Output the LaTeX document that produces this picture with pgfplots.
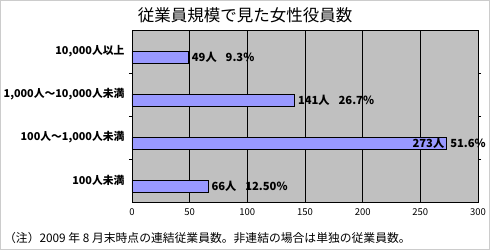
\documentclass[border=0pt]{standalone}
\usepackage{fontspec}
\setmainfont{Noto Sans CJK JP}
\usepackage{pgfplots}
\pgfplotsset{compat=1.18}
\definecolor{plotbg}{HTML}{C0C0C0}
\definecolor{barfill}{HTML}{9999FF}
\begin{document}
\begin{tikzpicture}
\path[use as bounding box] (0pt,0pt) rectangle (490pt,250pt);
\draw[black!20, line width=1pt] (0.5pt,0.5pt) rectangle (489.5pt,249.5pt);
\node[font=\fontsize{16.5}{18}\selectfont, inner sep=0pt] at (245pt,235pt) {従業員規模で見た女性役員数};
\node[anchor=west, font=\fontsize{11.8}{13}\selectfont, inner sep=0pt] at (4pt,12pt) {（注）2009 年 8 月末時点の連結従業員数。非連結の場合は単独の従業員数。};
\begin{axis}[
  at={(132pt,48pt)}, anchor=south west,
  scale only axis, width=346pt, height=172pt,
  xmin=0, xmax=300, ymin=-0.5, ymax=3.5,
  y dir=reverse,
  xtick={0,50,...,300},
  ytick={0,1,2,3},
  yticklabels={10{,}000人以上, 1{,}000人～10{,}000人未満, 100人～1{,}000人未満, 100人未満},
  yticklabel style={font=\bfseries\fontsize{10.8}{12}\selectfont, xshift=-4pt},
  xticklabel style={font=\fontsize{9.5}{11}\selectfont, yshift=-3pt},
  /pgf/number format/assume math mode=true,
  major tick length=0pt,
  extra y ticks={0.5,1.5,2.5},
  extra y tick labels={},
  extra y tick style={major tick length=3pt, tick style={black}},
  xmajorgrids, grid style={black, line width=0.8pt},
  axis line style={black, line width=0.8pt},
  axis background/.style={fill=plotbg},
  xbar, bar width=0.28, bar shift=0pt,
  point meta=explicit symbolic,
  nodes near coords,
  nodes near coords style={anchor=west, inner sep=0pt, xshift=3pt, font=\bfseries\fontsize{11.2}{12}\selectfont, text=black},
]
\addplot[fill=barfill, draw=black, line width=0.8pt] coordinates {
  (49,0.13) [49人\hspace{0.8em}9.3\%]
  (141,1.13) [141人\hspace{0.8em}26.7\%]
  (273,2.13) [\llap{273人\hspace{6pt}}51.6\%]
  (66,3.13) [66人\hspace{0.8em}12.50\%]
};
\end{axis}
\end{tikzpicture}
\end{document}
